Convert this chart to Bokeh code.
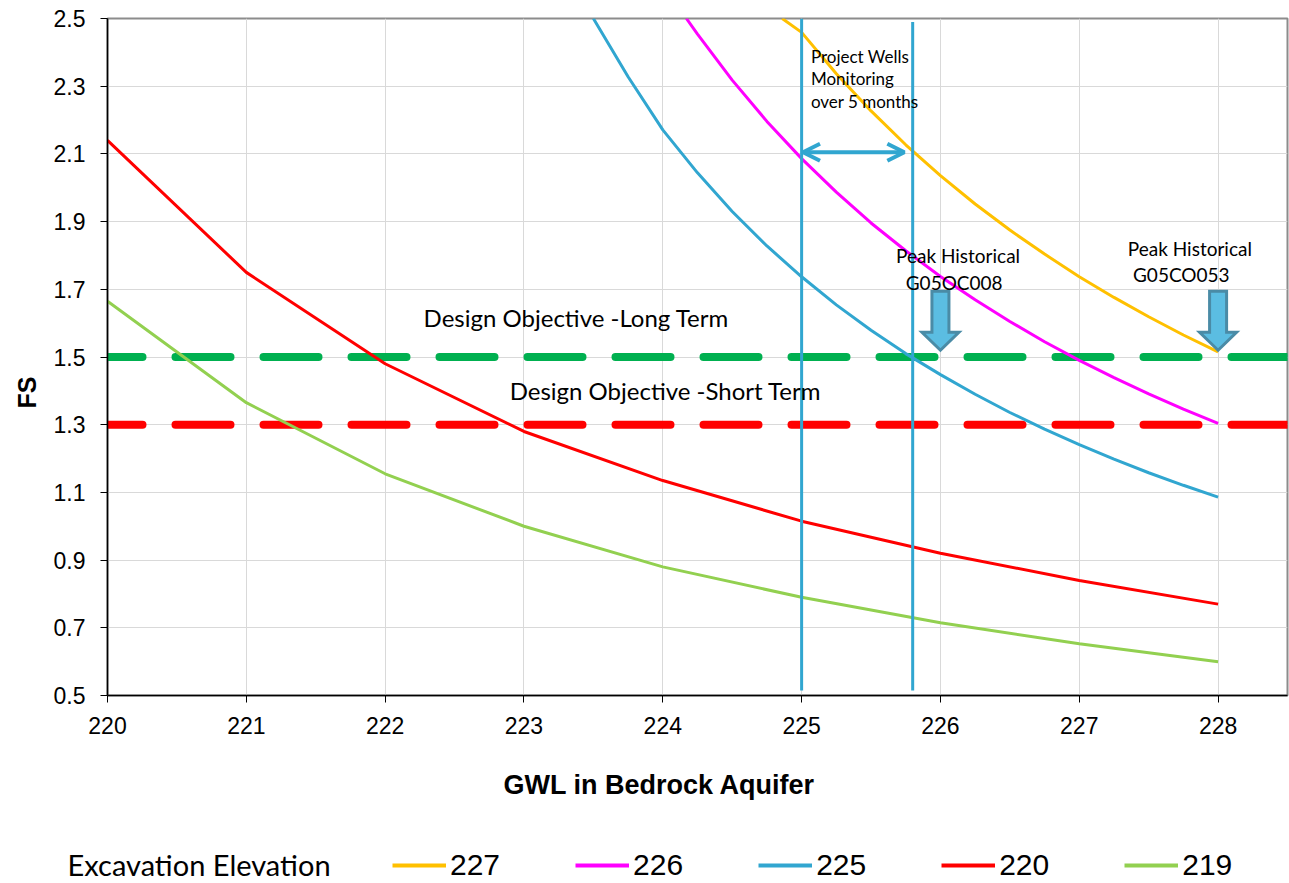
import math

from bokeh.plotting import figure
from bokeh.layouts import column
from bokeh.models import (Range1d, FixedTicker, PrintfTickFormatter, Label, Title,
                          Legend, LegendItem, Arrow, OpenHead)
from bokeh.embed import file_html
from bokeh.resources import INLINE

# ---------------------------------------------------------------------------
# Factor of safety (FS) against uplift vs. groundwater level (GWL) in the
# bedrock aquifer, one curve per excavation elevation.
# ---------------------------------------------------------------------------
gwl_int = [220, 221, 222, 223, 224, 225, 226, 227, 228]
fs_219 = [1.665, 1.365, 1.155, 1.00, 0.88, 0.79, 0.715, 0.653, 0.600]
fs_220 = [2.14, 1.75, 1.48, 1.28, 1.135, 1.015, 0.92, 0.84, 0.77]

gwl_225 = [223.5, 223.75, 224.0, 224.25, 224.5, 224.75, 225.0, 225.25, 225.5,
           225.75, 226.0, 226.25, 226.5, 226.75, 227.0, 227.25, 227.5, 227.75, 228.0]
fs_225 = [2.50, 2.328, 2.171, 2.044, 1.930, 1.828, 1.737, 1.654, 1.579,
          1.510, 1.448, 1.390, 1.336, 1.287, 1.241, 1.198, 1.158, 1.121, 1.086]

gwl_226 = [224.17, 224.25, 224.5, 224.75, 225.0, 225.25, 225.5, 225.75, 226.0,
           226.25, 226.5, 226.75, 227.0, 227.25, 227.5, 227.75, 228.0]
fs_226 = [2.50, 2.454, 2.318, 2.196, 2.086, 1.987, 1.896, 1.814, 1.738,
          1.669, 1.605, 1.545, 1.490, 1.439, 1.391, 1.346, 1.304]

gwl_227 = [224.86, 225.0, 225.25, 225.5, 225.75, 226.0, 226.25, 226.5, 226.75,
           227.0, 227.25, 227.5, 227.75, 228.0]
fs_227 = [2.50, 2.459, 2.337, 2.227, 2.127, 2.036, 1.952, 1.875, 1.804,
          1.737, 1.676, 1.619, 1.565, 1.515]

x_ticks = [220, 221, 222, 223, 224, 225, 226, 227, 228]
y_ticks = [0.5, 0.7, 0.9, 1.1, 1.3, 1.5, 1.7, 1.9, 2.1, 2.3, 2.5]

fs_long_term = 1.5     # design objective, long term
fs_short_term = 1.3    # design objective, short term
monitor_from = 225.0   # project wells monitoring range (GWL)
monitor_to = 225.8
monitor_fs = 2.105
peak_gwl = [226.0, 228.0]   # peak historical levels G05OC008, G05CO053
peak_fs = [1.52, 1.52]

X_MIN, X_MAX = 220, 228.5
Y_MIN, Y_MAX = 0.5, 2.5

C_227 = "#FFC000"
C_226 = "#FF00FF"
C_225 = "#31A6D0"
C_220 = "#FF0000"
C_219 = "#92D050"
C_LONG = "#00B050"
C_SHORT = "#FF0000"

series = [("227", gwl_227, fs_227, C_227),
          ("226", gwl_226, fs_226, C_226),
          ("225", gwl_225, fs_225, C_225),
          ("220", gwl_int, fs_220, C_220),
          ("219", gwl_int, fs_219, C_219)]

CALIBRI = "Lato"
ARIAL = "Liberation Sans"

W = 1289
MAIN_H = 840
LEG_H = 883 - MAIN_H

p = figure(width=W, height=MAIN_H, output_backend="svg", toolbar_location=None,
           x_range=Range1d(X_MIN, X_MAX), y_range=Range1d(Y_MIN, Y_MAX),
           min_border_left=107, min_border_right=2, min_border_top=18,
           min_border_bottom=MAIN_H - 695)
p.frame_align = False
p.background_fill_color = "white"
p.border_fill_color = "white"
p.outline_line_color = "#8C8C8C"
p.outline_line_width = 2

# axes
for ax in (p.xaxis[0], p.yaxis[0]):
    ax.axis_line_color = "black"
    ax.axis_line_width = 1.5
    ax.major_tick_line_color = "black"
    ax.major_tick_out = 7
    ax.major_tick_in = 0
    ax.minor_tick_line_color = None
    ax.major_label_text_font = ARIAL
    ax.major_label_text_font_size = "23px"
    ax.major_label_text_color = "black"
p.xaxis.ticker = FixedTicker(ticks=x_ticks)
p.xaxis.formatter = PrintfTickFormatter(format="%d")
p.xaxis.major_label_standoff = 14
p.yaxis.ticker = FixedTicker(ticks=y_ticks)
p.yaxis.formatter = PrintfTickFormatter(format="%.1f")
p.yaxis.major_label_standoff = 15

p.xgrid.grid_line_color = "#D9D9D9"
p.ygrid.grid_line_color = "#D9D9D9"
p.xgrid.grid_line_width = 1
p.ygrid.grid_line_width = 1

# axis titles
p.add_layout(Title(text="FS", align="left", offset=287, standoff=20,
                   text_font=ARIAL, text_font_style="bold", text_font_size="25px",
                   text_color="black"), "left")
p.add_layout(Title(text="GWL in Bedrock Aquifer", align="left", offset=396,
                   standoff=62, text_font=ARIAL, text_font_style="bold",
                   text_font_size="27px", text_color="black"), "below")

# design objective lines
dash = dict(line_width=8, line_dash="55 33", line_dash_offset=20, line_cap="round")
p.line([X_MIN, X_MAX], [fs_long_term, fs_long_term], line_color=C_LONG, **dash)
p.line([X_MIN, X_MAX], [fs_short_term, fs_short_term], line_color=C_SHORT, **dash)

# FS curves (drawn back to front)
for name, xs, ys, colour in reversed(series):
    p.line(xs, ys, line_color=colour, line_width=3)

# project wells monitoring band
p.segment(x0=[monitor_from, monitor_to], y0=[0.515, 0.515],
          x1=[monitor_from, monitor_to], y1=[2.5, 2.49],
          line_color=C_225, line_width=3)
p.add_layout(Arrow(start=OpenHead(size=17, line_color=C_225, line_width=4),
                   end=OpenHead(size=17, line_color=C_225, line_width=4),
                   x_start=monitor_from + 0.01, y_start=monitor_fs,
                   x_end=monitor_to - 0.06, y_end=monitor_fs,
                   line_color=C_225, line_width=4))

# block arrows marking the peak historical levels
px_x = 1 / 138.75
px_y = 1 / 338.5
for gx, gy in zip(peak_gwl, peak_fs):
    sw, hw = 8.5 * px_x, 18.5 * px_x
    hb, top = gy + 18 * px_y, gy + 59 * px_y
    xs = [gx - sw, gx + sw, gx + sw, gx + hw, gx, gx - hw, gx - sw]
    ys = [top, top, hb, hb, gy, hb, hb]
    p.patch(xs, ys, fill_color="#5BBDE2", line_color="#4A8BA6", line_width=3,
            line_join="miter")

# annotations
def note(x, y, text, size, font=CALIBRI):
    p.add_layout(Label(x=x, y=y, text=text, text_font=font, text_font_size=size,
                       text_color="black", text_baseline="alphabetic"))

note(225.067, 2.388, "Project Wells", "17px")
note(225.067, 2.323, "Monitoring", "17px")
note(225.067, 2.255, "over 5  months", "17px")
note(225.68, 1.800, "Peak Historical", "19px")
note(225.75, 1.720, "G05OC008", "19px")
note(227.35, 1.8205, "Peak Historical", "19px")
note(227.387, 1.743, "G05CO053", "19px")
note(222.277, 1.617, "Design Objective -Long Term", "24px")
note(222.897, 1.401, "Design Objective -Short Term", "24px")

# legend strip under the chart; its series are hidden copies that only
# supply the legend swatches
leg = figure(width=W, height=LEG_H, output_backend="svg", toolbar_location=None,
             x_range=Range1d(0, W), y_range=Range1d(0, LEG_H),
             min_border=0, x_axis_type=None, y_axis_type=None)
leg.frame_align = False
leg.outline_line_color = None
leg.background_fill_color = "white"
leg.border_fill_color = "white"
leg_items = []
for name, xs, ys, colour in series:
    r = leg.line(xs, ys, line_color=colour, line_width=4, visible=False)
    leg_items.append(LegendItem(label=name, renderers=[r]))
leg.add_layout(Label(x=67, y=19, text="Excavation Elevation",
                     text_font=CALIBRI, text_font_size="29px", text_color="black",
                     text_align="left", text_baseline="middle"))
legend = Legend(items=leg_items, orientation="horizontal", location=(392, 1),
                glyph_width=54, glyph_height=20, label_standoff=4, spacing=75,
                padding=0, margin=0, border_line_color=None,
                background_fill_alpha=0, inactive_fill_alpha=0,
                label_text_font=ARIAL, label_text_font_size="30px",
                label_text_color="black")
leg.add_layout(legend, "center")

page = column(p, leg, spacing=0)
open("out.html", "w").write(file_html(page, INLINE))
